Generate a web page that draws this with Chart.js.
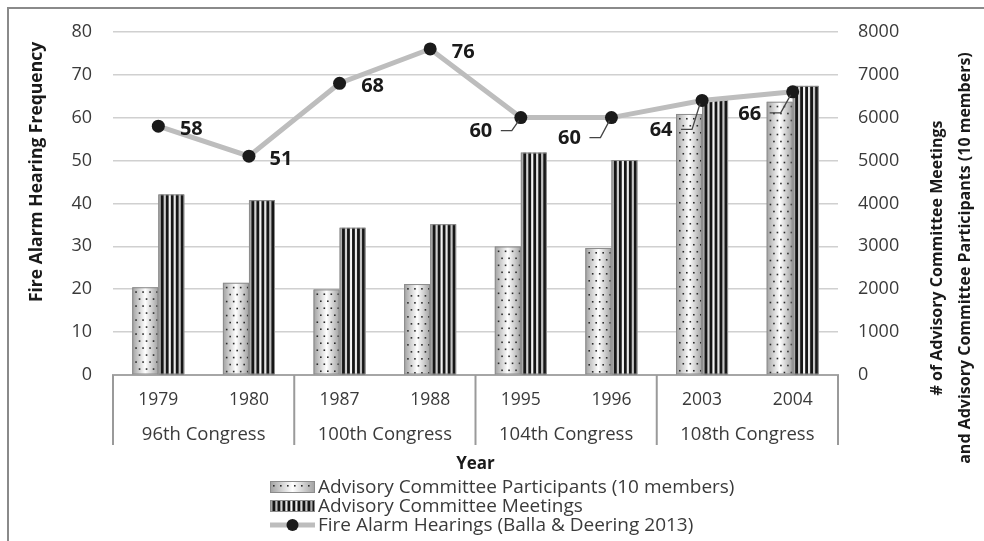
<!DOCTYPE html>
<html><head><meta charset="utf-8">
<script src="https://cdn.jsdelivr.net/npm/chart.js@4/dist/chart.umd.min.js"></script>
<style>
html,body{margin:0;padding:0;background:#fff;}
#wrap{position:relative;width:984px;height:541px;overflow:hidden;background:#fff;}
#frame{position:absolute;left:7px;top:7px;width:1000px;height:560px;border-left:2px solid #8a8a8a;border-top:2px solid #8a8a8a;box-sizing:border-box;pointer-events:none;}
canvas{position:absolute;left:0;top:0;}
</style></head><body>
<div id="wrap"><canvas id="c" width="984" height="541"></canvas><div id="frame"></div></div>
<script>
// ---- data ----
const years = ['1979','1980','1987','1988','1995','1996','2003','2004'];
const congresses = ['96th Congress','100th Congress','104th Congress','108th Congress'];
const participants = [2045, 2150, 1995, 2120, 2995, 2960, 6085, 6370];
const meetings = [4210, 4075, 3435, 3515, 5185, 5010, 6410, 6740];
const fireAlarmHearings = [58, 51, 68, 76, 60, 60, 64, 66];
const seriesNames = ['Advisory Committee Participants (10 members)', 'Advisory Committee Meetings', 'Fire Alarm Hearings (Balla & Deering 2013)'];
const leftTitle = 'Fire Alarm Hearing Frequency';
const rightTitle = ['# of Advisory Committee Meetings', 'and Advisory Committee Participants (10 members)'];
const xTitle = 'Year';

// ---- styling ----
const FONT = "'Open Sans', 'Noto Sans', sans-serif";
const TXT = '#3a3a3a';
// label placement relative to each point (styling only)
const labelPos = [
  {dx:33, dy:3, leader:false},{dx:32, dy:3, leader:false},{dx:33, dy:3, leader:false},{dx:33, dy:3, leader:false},
  {dx:-40, dy:14, leader:true},{dx:-42, dy:21, leader:true},{dx:-41, dy:30, leader:true},{dx:-43, dy:22, leader:true}
];

Chart.defaults.font.family = FONT;
Chart.defaults.color = TXT;

function drawBarFill(ctx, left, top, w, h, kind) {
  ctx.save();
  ctx.beginPath(); ctx.rect(left, top, w, h); ctx.clip();
  const g = ctx.createLinearGradient(left, 0, left + w, 0);
  g.addColorStop(0, '#a0a0a0'); g.addColorStop(0.5, '#ffffff'); g.addColorStop(1, '#a0a0a0');
  ctx.fillStyle = g; ctx.fillRect(left, top, w, h);
  if (kind === 0) {
    ctx.fillStyle = '#2a2a2a';
    let row = 0;
    for (let yy = top + 4; yy < top + h - 1; yy += 7, row++) {
      for (let xx = left + 3 + (row % 2) * 3.5; xx < left + w - 2; xx += 7) ctx.fillRect(xx, yy, 1.6, 1.6);
    }
  } else {
    ctx.fillStyle = '#161616';
    for (let xx = left + 2.5; xx < left + w - 1.5; xx += 5) ctx.fillRect(xx, top, 2.8, h);
  }
  ctx.restore();
  ctx.strokeStyle = '#8c8c8c'; ctx.lineWidth = 1;
  ctx.strokeRect(left + 0.5, top + 0.5, w - 1, h - 1);
}

const decor = {
  id: 'decor',
  afterDatasetDraw(chart, args) {
    const meta = args.meta;
    if (meta.type !== 'bar') return;
    const ctx = chart.ctx;
    meta.data.forEach(el => {
      const p = el.getProps(['x','y','base','width'], true);
      const left = p.x - p.width / 2, top = Math.min(p.y, p.base), h = Math.abs(p.base - p.y);
      drawBarFill(ctx, left, top, p.width, h, args.index);
    });
  },
  afterDatasetsDraw(chart) {
    const ctx = chart.ctx;
    const meta = chart.getDatasetMeta(2);
    ctx.save();
    ctx.font = "bold 20px " + FONT;
    ctx.fillStyle = '#1a1a1a';
    ctx.textAlign = 'center'; ctx.textBaseline = 'middle';
    meta.data.forEach((pt, i) => {
      const lp = labelPos[i];
      const cx = pt.x + lp.dx, cy = pt.y + lp.dy;
      ctx.fillText(String(fireAlarmHearings[i]), cx, cy);
      if (lp.leader) {
        ctx.strokeStyle = '#444'; ctx.lineWidth = 1.3;
        ctx.beginPath();
        ctx.moveTo(cx + 20, cy - 1); ctx.lineTo(cx + 31, cy - 1); ctx.lineTo(pt.x - 2, pt.y + 3);
        ctx.stroke();
      }
    });
    ctx.restore();
  },
  afterDraw(chart) {
    const ctx = chart.ctx, ca = chart.chartArea, xs = chart.scales.x;
    ctx.save();
    // category group separators and congress labels
    const n = years.length;
    const bound = k => {
      if (k === 0) return ca.left;
      if (k === n) return ca.right;
      return (xs.getPixelForValue(k - 1) + xs.getPixelForValue(k)) / 2;
    };
    ctx.strokeStyle = '#9a9a9a'; ctx.lineWidth = 2;
    for (let g = 0; g <= congresses.length; g++) {
      const bx = bound(g * 2);
      ctx.beginPath(); ctx.moveTo(bx, ca.bottom); ctx.lineTo(bx, ca.bottom + 70); ctx.stroke();
    }
    ctx.fillStyle = TXT; ctx.font = "18.5px " + FONT; ctx.textAlign = 'center'; ctx.textBaseline = 'middle';
    congresses.forEach((c, g) => {
      ctx.fillText(c, (bound(g * 2) + bound(g * 2 + 2)) / 2, ca.bottom + 60);
    });
    // x title
    ctx.font = "bold 17px " + FONT; ctx.fillStyle = '#1a1a1a';
    ctx.fillText(xTitle, (ca.left + ca.right) / 2, ca.bottom + 89);
    // left title
    ctx.save();
    ctx.translate(37, 172); ctx.rotate(-Math.PI / 2);
    ctx.font = "bold 17.5px " + FONT; ctx.fillText(leftTitle, 0, 0);
    ctx.restore();
    // right title
    ctx.save();
    ctx.translate(937, 258); ctx.rotate(-Math.PI / 2);
    ctx.font = "bold 16px " + FONT;
    ctx.fillText(rightTitle[0], 0, 0);
    ctx.fillText(rightTitle[1], 0, 28);
    ctx.restore();
    // legend
    const lx = 270, sw = 45, tx = 318;
    const rows = [ca.bottom + 112, ca.bottom + 131, ca.bottom + 150];
    ctx.textAlign = 'left'; ctx.font = "19px " + FONT; 
    chart.data.datasets.forEach((ds, i) => {
      const yy = rows[i];
      if (i < 2) {
        drawBarFill(ctx, lx, yy - 6, sw, 12, i);
      } else {
        ctx.strokeStyle = ds.borderColor; ctx.lineWidth = 5;
        ctx.beginPath(); ctx.moveTo(lx, yy); ctx.lineTo(lx + sw, yy); ctx.stroke();
        ctx.fillStyle = ds.pointBackgroundColor;
        ctx.beginPath(); ctx.arc(lx + sw / 2, yy, 6, 0, Math.PI * 2); ctx.fill();
      }
      ctx.fillStyle = TXT;
      ctx.fillText(ds.label, tx, yy + 1);
    });
    ctx.restore();
  }
};

new Chart(document.getElementById('c'), {
  data: {
    labels: years,
    datasets: [
      {type:'bar', label: seriesNames[0], data: participants, yAxisID:'y1', backgroundColor:'#e0e0e0', borderColor:'#8c8c8c', borderWidth:1, order:1, categoryPercentage:0.575, barPercentage:1},
      {type:'bar', label: seriesNames[1], data: meetings, yAxisID:'y1', backgroundColor:'#333', borderColor:'#8c8c8c', borderWidth:1, order:1, categoryPercentage:0.575, barPercentage:1},
      {type:'line', label: seriesNames[2], data: fireAlarmHearings, yAxisID:'y', borderColor:'#bdbdbd', borderWidth:5, tension:0,
       pointRadius:6.5, pointBackgroundColor:'#1a1a1a', pointBorderColor:'#1a1a1a', pointBorderWidth:0, order:0}
    ]
  },
  options: {
    responsive:false, animation:false, devicePixelRatio:1,
    layout:{padding:{top:29, left:0, right:0, bottom:0}},
    plugins:{legend:{display:false}, tooltip:{enabled:false}},
    scales:{
      x:{offset:true, grid:{display:false}, border:{display:true, color:'#a6a6a6', width:2},
         ticks:{font:{size:17.5}, padding:7, color:TXT},
         afterFit: s => { s.height = 166; }},
      y:{position:'left', min:0, max:80, ticks:{stepSize:10, font:{size:18}, padding:21, color:TXT},
         grid:{color:'#d0d0d0', lineWidth:1.5, drawTicks:false}, border:{display:false},
         afterFit: s => { s.width = 113; }},
      y1:{position:'right', min:0, max:8000, ticks:{stepSize:1000, font:{size:18}, padding:20, color:TXT, callback: v => String(v)},
         grid:{drawOnChartArea:false, drawTicks:false}, border:{display:false},
         afterFit: s => { s.width = 146; }}
    }
  },
  plugins:[decor]
});
</script>
</body></html>
